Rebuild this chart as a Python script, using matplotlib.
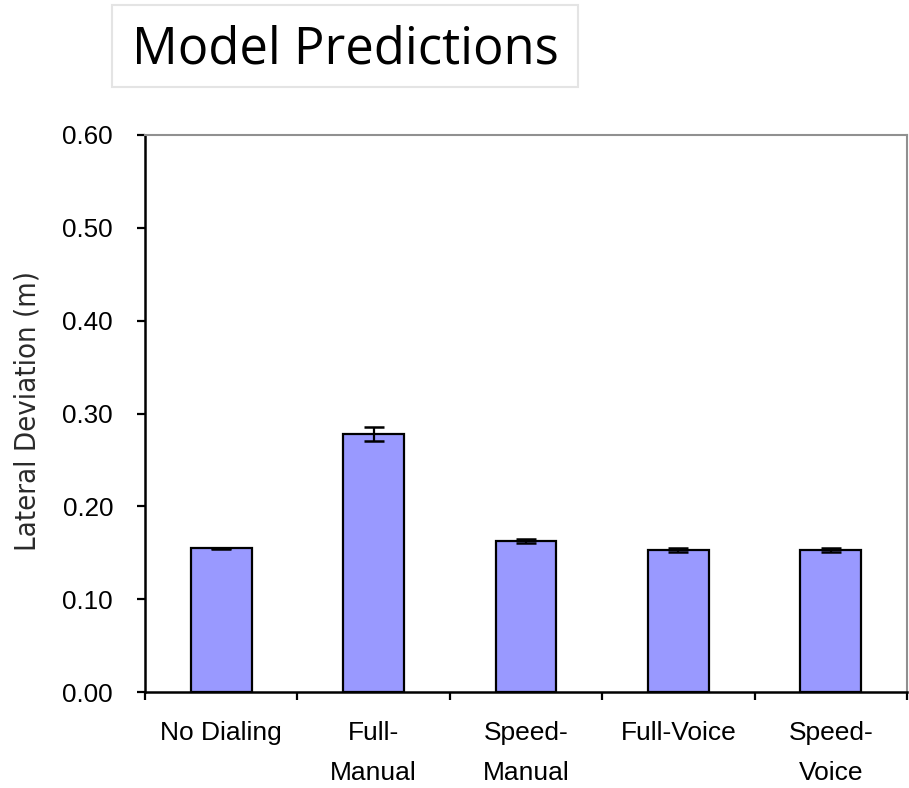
import matplotlib
matplotlib.use("Agg")
import matplotlib.pyplot as plt
from matplotlib.patches import Rectangle
import numpy as np

categories = ["No Dialing", "Full-\nManual", "Speed-\nManual", "Full-Voice", "Speed-\nVoice"]
values = [0.155, 0.278, 0.163, 0.153, 0.153]
errors = [0.0005, 0.0072, 0.002, 0.002, 0.002]
yticks = [0.0, 0.1, 0.2, 0.3, 0.4, 0.5, 0.6]

W, H = 909, 788
fig = plt.figure(figsize=(W/100, H/100), dpi=100)
ax = fig.add_axes([145/W, 1-692/H, (907-145)/W, (692-135)/H])

x = np.arange(len(categories))
ax.bar(x, values, width=0.4, color="#9999ff", edgecolor="black", linewidth=1.6,
       yerr=errors, capsize=7.5, error_kw=dict(elinewidth=1.6, capthick=1.8, ecolor="black"))

ax.set_xlim(-0.5, len(categories) - 0.5)
ax.set_ylim(0, 0.6)
ax.set_yticks(yticks)
ax.set_yticklabels([f"{v:.2f}" for v in yticks], fontsize=18.7, family="Liberation Sans")
ax.tick_params(axis="y", direction="out", length=6, width=1.6, pad=17)

ax.set_xticks(np.arange(-0.5, len(categories), 1.0))
ax.set_xticklabels([])
ax.tick_params(axis="x", which="major", direction="out", length=6, width=1.6)
ax.set_xticks(x, minor=True)
ax.set_xticklabels(categories, minor=True, fontsize=19, family="Liberation Sans",
                   linespacing=1.85, va="top", ha="center", multialignment="center")
ax.tick_params(axis="x", which="minor", length=0, pad=21)

for s in ["left", "bottom"]:
    ax.spines[s].set_linewidth(1.8)
    ax.spines[s].set_color("black")
for s in ["top", "right"]:
    ax.spines[s].set_linewidth(1.5)
    ax.spines[s].set_color("#909090")

fig.text(28/W, 1-411/H, "Lateral Deviation (m)", rotation=90, ha="center", va="center",
         fontsize=21, color="#2a2a2a", family="DejaVu Sans", fontstretch="condensed")

fig.patches.append(Rectangle((112/W, 1-87/H), (578-112)/W, (87-5)/H, transform=fig.transFigure,
                             facecolor="white", edgecolor="#e4e4e4", linewidth=1.5))
fig.text(345/W, 1-63/H, "Model Predictions", ha="center", va="baseline", fontsize=36.5,
         family="Open Sans")

fig.savefig("out.png", dpi=100)
